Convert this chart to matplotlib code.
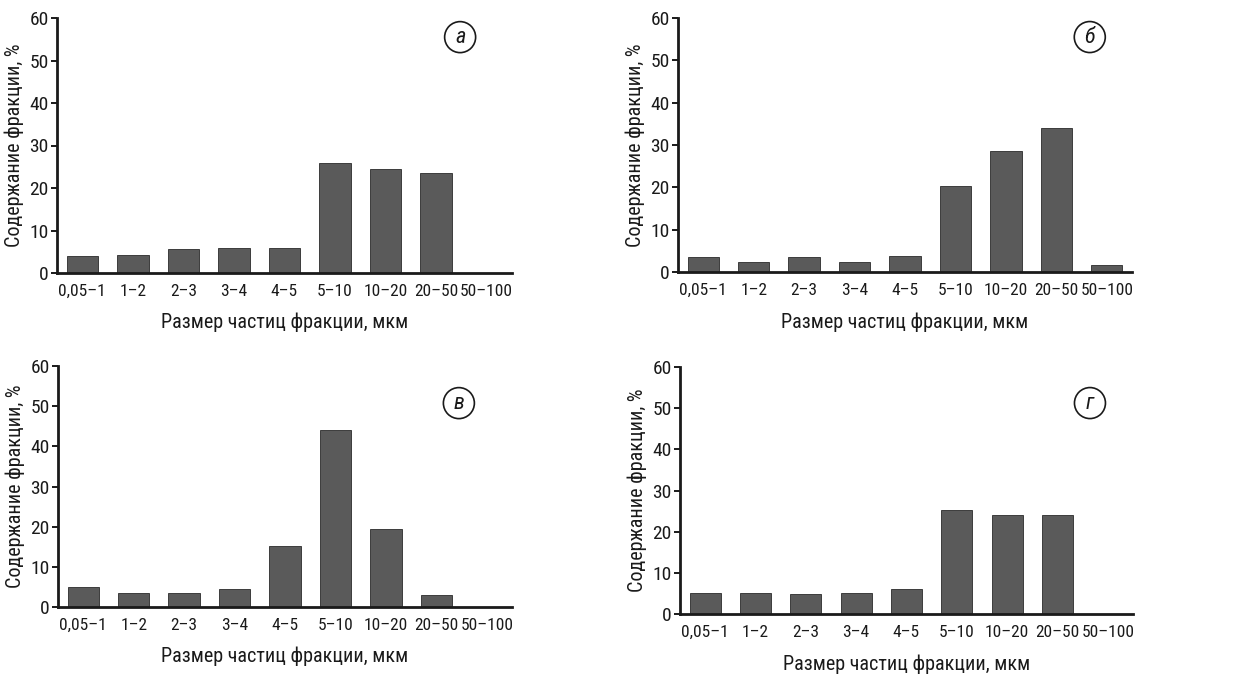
import matplotlib
matplotlib.use('Agg')
import matplotlib.pyplot as plt
import numpy as np
from matplotlib import font_manager
from matplotlib.patches import Ellipse

# pick a narrow sans if one is available
fonts = font_manager.fontManager.ttflist
names = {f.name for f in fonts}
stretch = 'normal'
family = 'DejaVu Sans'
narrow = False
for cand in ['Liberation Sans Narrow', 'Roboto Condensed', 'Open Sans Condensed', 'Arial Narrow']:
    if cand in names:
        family = cand
        narrow = True
        break
if not narrow:
    if any(f.name == 'DejaVu Sans' and f.stretch in ('condensed', 'semi-condensed') for f in fonts):
        stretch = 'condensed'
        narrow = True
    elif any(f.name == 'Roboto' and 'ondensed' in f.fname for f in fonts):
        family = 'Roboto'
        stretch = 'condensed'
        narrow = True

plt.rcParams['font.family'] = [family, 'DejaVu Sans']
plt.rcParams['font.stretch'] = stretch
fs = 13 if narrow else 11

categories = ['0,05–1', '1–2', '2–3', '3–4', '4–5', '5–10', '10–20', '20–50', '50–100']

# содержание фракции, % (четыре образца)
vals_a = [3.9, 4.3, 5.7, 5.9, 5.9, 25.9, 24.4, 23.6, 0.0]
vals_b = [3.6, 2.3, 3.5, 2.3, 3.7, 20.3, 28.5, 34.1, 1.65]
vals_v = [5.0, 3.6, 3.6, 4.6, 15.3, 44.0, 19.4, 2.9, 0.0]
vals_g = [5.0, 5.0, 4.8, 5.0, 6.0, 25.2, 24.0, 24.0, 0.0]

panel_letters = ['а', 'б', 'в', 'г']

xlabel = 'Размер частиц фракции, мкм'
ylabel = 'Содержание фракции, %'

W, H = 1238, 676
fig = plt.figure(figsize=(W / 100, H / 100), dpi=100)

# axes boxes in pixels: left, top, right, bottom
boxes = [(57, 18, 512, 273), (678, 18, 1132, 272),
         (58, 366, 512, 607), (680, 367, 1133, 614)]
label_pos = [(0.886, 0.925), (0.907, 0.925), (0.883, 0.846), (0.905, 0.854)]
all_vals = [vals_a, vals_b, vals_v, vals_g]

txt = '#1a1a1a'
x = np.arange(len(categories))

for box, vals, letter, lp in zip(boxes, all_vals, panel_letters, label_pos):
    l, t, r, b = box
    ax = fig.add_axes([l / W, 1 - b / H, (r - l) / W, (b - t) / H])
    ax.bar(x, vals, width=0.62, color='#5a5a5a', edgecolor='#2a2a2a', linewidth=0.6)
    ax.set_xlim(-0.5, 8.5)
    ax.set_ylim(0, 60)
    ax.set_yticks(np.arange(0, 61, 10))
    ax.set_xticks(x)
    ax.set_xticklabels(categories, fontsize=fs - 0.5, color=txt)
    ax.tick_params(axis='x', length=0, pad=8)
    ax.tick_params(axis='y', length=4, width=1.4, pad=2, labelsize=fs + 1,
                   labelcolor=txt, color=txt)
    for s in ['top', 'right']:
        ax.spines[s].set_visible(False)
    ax.spines['left'].set_linewidth(2)
    ax.spines['bottom'].set_linewidth(2)
    ax.spines['left'].set_color(txt)
    ax.spines['bottom'].set_color(txt)
    ax.set_xlabel(xlabel, fontsize=fs + 1.5, color=txt, labelpad=10)
    ax.set_ylabel(ylabel, fontsize=fs + 1.5, color=txt, labelpad=4)

    # circled panel letter
    ew = 31 / (r - l)
    eh = 31 / (b - t)
    ax.add_patch(Ellipse(lp, ew, eh, transform=ax.transAxes, fill=False,
                         edgecolor=txt, linewidth=1.2, clip_on=False))
    ax.text(lp[0], lp[1], letter, transform=ax.transAxes, ha='center', va='center',
            fontsize=fs + 3, style='italic', color=txt)

fig.savefig('out.png', dpi=100)
